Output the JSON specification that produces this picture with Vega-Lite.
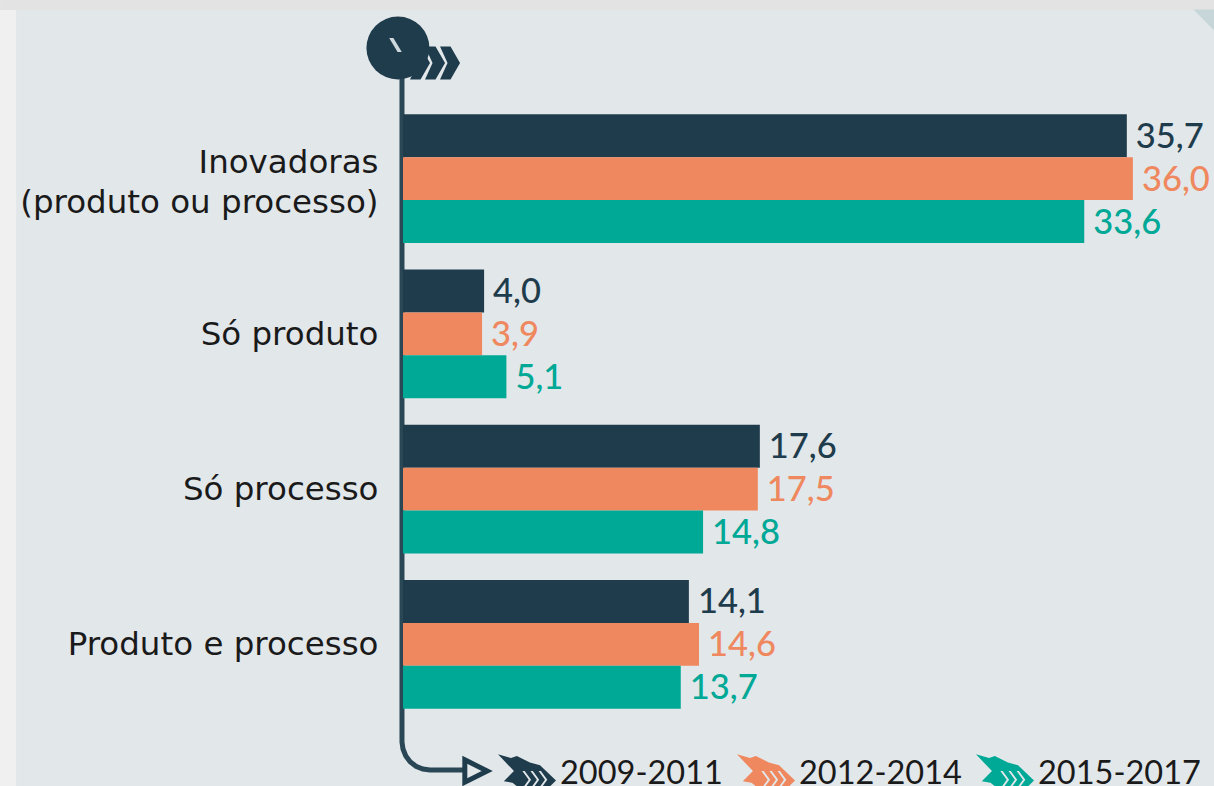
{
"$schema":"https://vega.github.io/schema/vega-lite/v6.json",
"width":811,"height":786,
"autosize":{"type":"none"},
"padding":{"left":403,"top":0,"right":0,"bottom":0},
"background":"#f0f0f0",
"config":{"view":{"stroke":null},"locale":{"number":{"decimal":",","thousands":".","grouping":[3],"currency":["R$",""]}}},
"resolve":{"scale":{"y":"independent"}},
"datasets":{"inovacao":[
{"tipo":"Inovadoras|(produto ou processo)","periodo":"2009-2011","valor":35.7},
{"tipo":"Inovadoras|(produto ou processo)","periodo":"2012-2014","valor":36.0},
{"tipo":"Inovadoras|(produto ou processo)","periodo":"2015-2017","valor":33.6},
{"tipo":"Só produto","periodo":"2009-2011","valor":4.0},
{"tipo":"Só produto","periodo":"2012-2014","valor":3.9},
{"tipo":"Só produto","periodo":"2015-2017","valor":5.1},
{"tipo":"Só processo","periodo":"2009-2011","valor":17.6},
{"tipo":"Só processo","periodo":"2012-2014","valor":17.5},
{"tipo":"Só processo","periodo":"2015-2017","valor":14.8},
{"tipo":"Produto e processo","periodo":"2009-2011","valor":14.1},
{"tipo":"Produto e processo","periodo":"2012-2014","valor":14.6},
{"tipo":"Produto e processo","periodo":"2015-2017","valor":13.7}
]},
"layer":[
{"data":{"values":[{"x":-19.08,"x2":40,"p":10,"p2":786}]},
 "mark":{"type":"rect","color":"#e2e7ea","clip":false},
 "encoding":{"x":{"field":"x","type":"quantitative","scale":{"domain":[0,40],"nice":false,"zero":false},"axis":null},"x2":{"field":"x2"},
 "y":{"field":"p","type":"quantitative","scale":{"domain":[0,786],"range":[0,786],"nice":false},"axis":null},"y2":{"field":"p2"}}},
{"data":{"values":[{"x":-19.87,"x2":40,"p":0,"p2":10}]},
 "mark":{"type":"rect","color":"#e3e3e3","clip":false},
 "encoding":{"x":{"field":"x","type":"quantitative","axis":null},"x2":{"field":"x2"},
 "y":{"field":"p","type":"quantitative","scale":{"domain":[0,786],"range":[0,786],"nice":false},"axis":null},"y2":{"field":"p2"}}},
{"data":{"values":[{"x":39.5,"p":20}]},
 "mark":{"type":"point","shape":"M-1 -1 L1 -1 L1 1 Z","filled":true,"color":"#c6d6d9","opacity":1,"size":441,"clip":false},
 "encoding":{"x":{"field":"x","type":"quantitative","axis":null},
 "y":{"field":"p","type":"quantitative","scale":{"domain":[0,786],"range":[0,786],"nice":false},"axis":null}}},
{"data":{"values":[{"o":1,"x":-0.05,"p":75},{"o":2,"x":-0.05,"p":742},{"o":3,"x":0,"p":749},{"o":4,"x":0.14,"p":756},{"o":5,"x":0.35,"p":761.8},{"o":6,"x":0.64,"p":766.2},{"o":7,"x":0.98,"p":769},{"o":8,"x":1.33,"p":770},{"o":9,"x":3.2,"p":770}]},
 "mark":{"type":"line","color":"#2a4756","strokeWidth":5,"clip":false},
 "encoding":{"x":{"field":"x","type":"quantitative","axis":null},
 "y":{"field":"p","type":"quantitative","scale":{"domain":[0,786],"range":[0,786],"nice":false},"axis":null},
 "order":{"field":"o"}}},
{"data":{"values":[{"x":3.6,"p":771}]},
 "mark":{"type":"point","shape":"M-1 -1 L1 0 L-1 1 Z","filled":true,"fill":"#e2e7ea","stroke":"#1f3c4c","strokeWidth":5,"opacity":1,"size":500,"clip":false},
 "encoding":{"x":{"field":"x","type":"quantitative","axis":null},
 "y":{"field":"p","type":"quantitative","scale":{"domain":[0,786],"range":[0,786],"nice":false},"axis":null}}},
{"data":{"values":[{"x":-0.25,"p":48}]},
 "mark":{"type":"point","shape":"circle","filled":true,"color":"#1f3c4c","opacity":1,"size":3969,"clip":false},
 "encoding":{"x":{"field":"x","type":"quantitative","axis":null},
 "y":{"field":"p","type":"quantitative","scale":{"domain":[0,786],"range":[0,786],"nice":false},"axis":null}}},
{"data":{"values":[{"x":-0.37,"p":45}]},
 "mark":{"type":"point","shape":"M-.9 -1 L-.3 -1 L.9 1 L.3 1 Z","filled":true,"color":"#cfd8dc","opacity":1,"size":196,"clip":false},
 "encoding":{"x":{"field":"x","type":"quantitative","axis":null},
 "y":{"field":"p","type":"quantitative","scale":{"domain":[0,786],"range":[0,786],"nice":false},"axis":null}}},
{"data":{"values":[{"x":1.58,"p":63}]},
 "mark":{"type":"point","shape":"M-1 -.66 L-.58 -.66 L-.2 0 L-.58 .66 L-1 .66 L-.7 0 Z M-.4 -.66 L.02 -.66 L.4 0 L.02 .66 L-.4 .66 L-.1 0 Z M.2 -.66 L.62 -.66 L1 0 L.62 .66 L.2 .66 L.5 0 Z","filled":true,"color":"#1f3c4c","opacity":1,"size":2500,"clip":false},
 "encoding":{"x":{"field":"x","type":"quantitative","axis":null},
 "y":{"field":"p","type":"quantitative","scale":{"domain":[0,786],"range":[0,786],"nice":false},"axis":null}}},
{"data":{"name":"inovacao"},
 "mark":{"type":"bar","clip":false},
 "encoding":{
 "y":{"field":"tipo","type":"nominal","sort":null,"scale":{"range":[101,722],"paddingInner":0.17,"paddingOuter":0.085},
  "axis":{"orient":"left","zindex":1,"title":null,"domain":false,"ticks":false,"tickSize":0,"labelPadding":25,"labelFont":"DejaVu Sans","labelFontSize":32.5,"labelColor":"#1a1a1a","labelLimit":400,"labelLineHeight":40,"labelOffset":1,"labelBaseline":{"condition":{"test":"indexof(datum.value,'|')>=0","value":"bottom"},"value":"middle"},"labelExpr":"split(datum.label,'|')"}},
 "yOffset":{"field":"periodo","type":"nominal","sort":null},
 "x":{"field":"valor","type":"quantitative","axis":null},
 "color":{"field":"periodo","type":"nominal","sort":null,
   "scale":{"domain":["2009-2011","2012-2014","2015-2017"],"range":["#1f3c4c","#ef885e","#00a896"]},
   "legend":{"title":null,"orient":"none","direction":"horizontal","legendX":95,"legendY":745,"symbolType":"M-1 -.68 L-.55 -.55 L-.35 -.62 L.1 -.4 L.45 -.3 L1 .22 L.6 .62 L-.1 .62 L-.5 .3 L-.8 .25 L-.45 -.1 Z M.12 -.1 L.34 .2 L.12 .5 L.2 .5 L.42 .2 L.2 -.1 Z M.4 -.1 L.62 .2 L.4 .5 L.48 .5 L.7 .2 L.48 -.1 Z M-.16 -.1 L.06 .2 L-.16 .5 L-.08 .5 L.14 .2 L-.08 -.1 Z","symbolSize":3364,"symbolStrokeWidth":0,"labelFont":"Lato","labelFontSize":32.5,"labelColor":"#1a1a1a","labelOffset":4,"columnPadding":14,"labelLimit":300}}}},
{"data":{"name":"inovacao"},
 "mark":{"type":"text","align":"left","baseline":"middle","dx":9,"dy":2,"font":"Lato","fontSize":34.5,"fontWeight":500,"clip":false},
 "encoding":{
 "y":{"field":"tipo","type":"nominal","sort":null,"scale":{"range":[101,722],"paddingInner":0.17,"paddingOuter":0.085},"axis":null},
 "yOffset":{"field":"periodo","type":"nominal","sort":null},
 "x":{"field":"valor","type":"quantitative","axis":null},
 "text":{"field":"valor","type":"quantitative","format":".1f"},
 "color":{"field":"periodo","type":"nominal","sort":null,"legend":null}}}
]}
